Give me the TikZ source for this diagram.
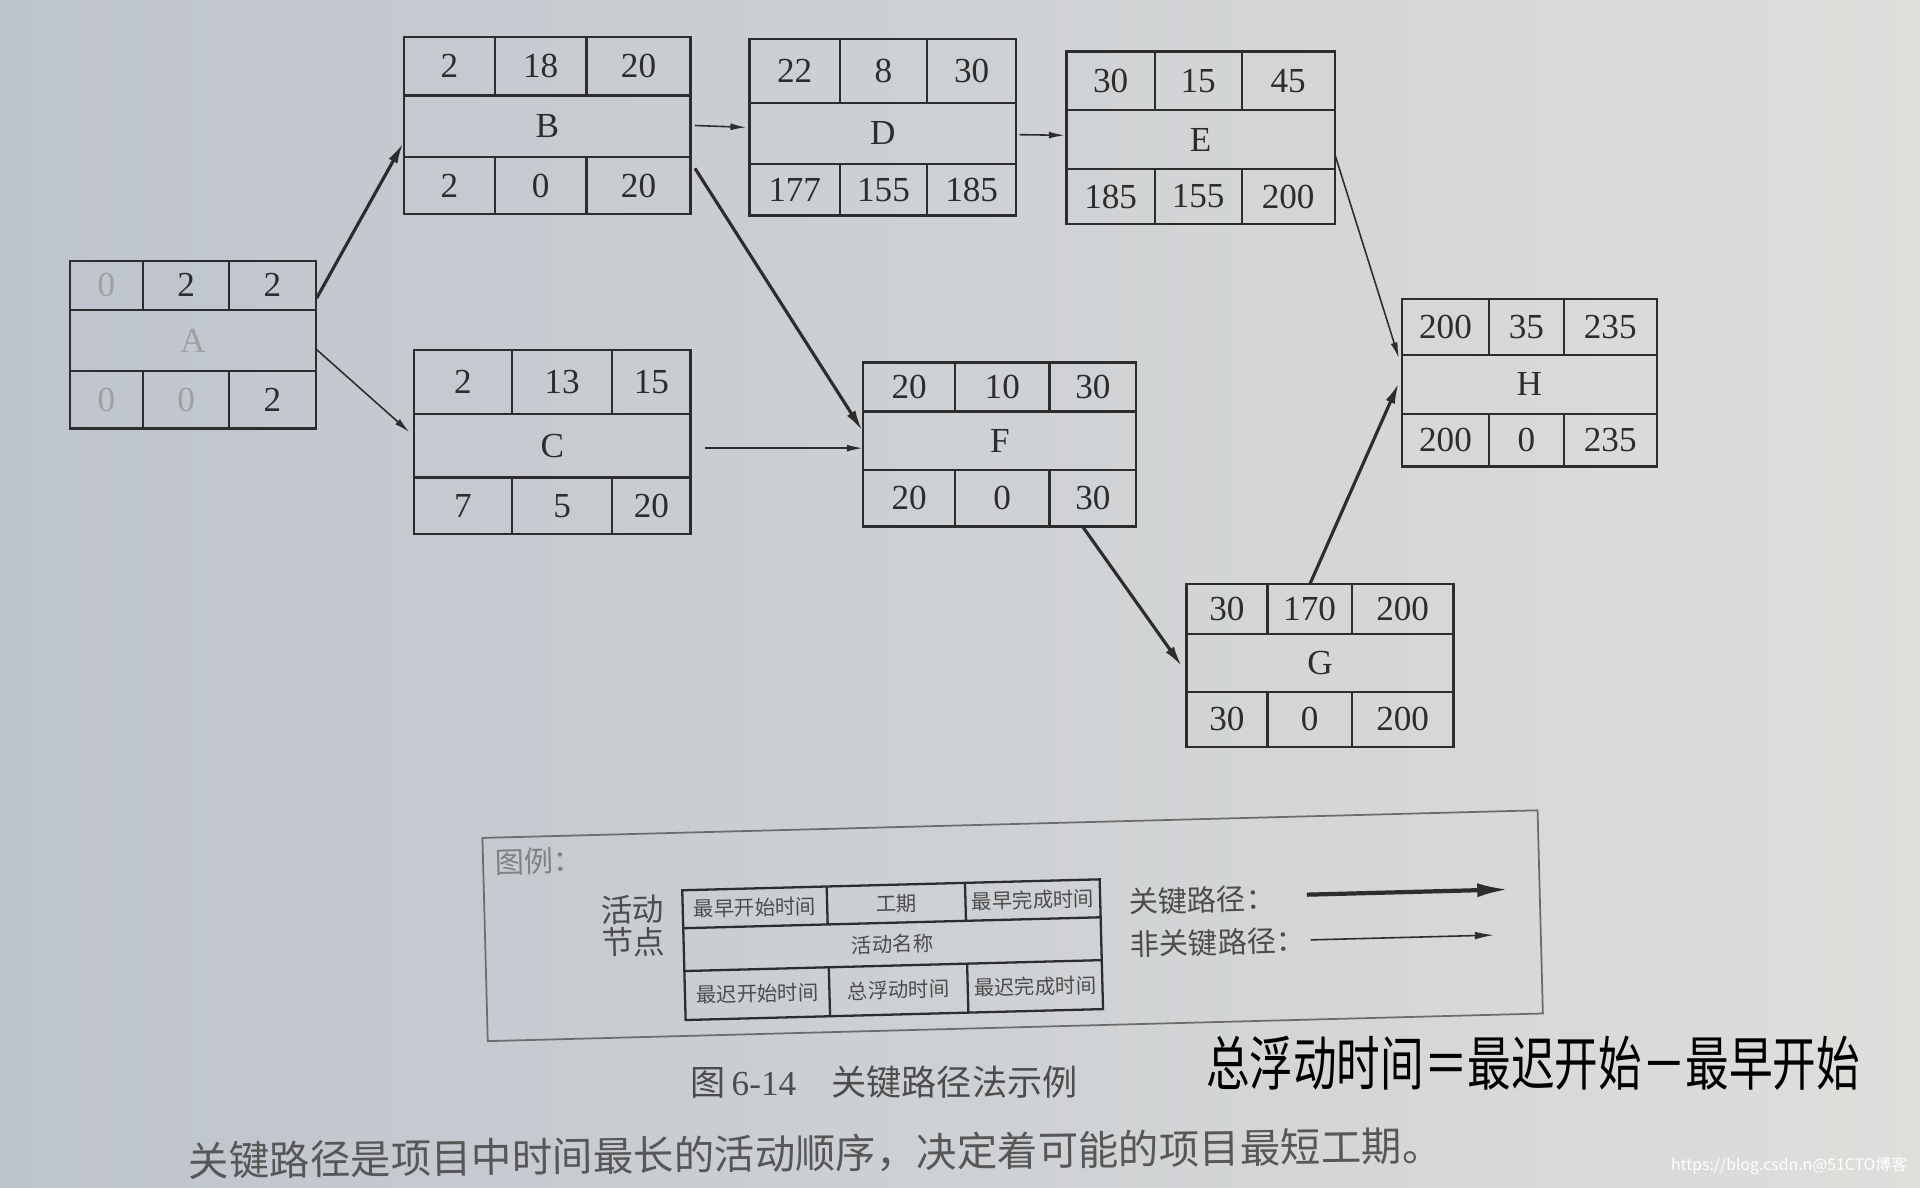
\documentclass[tikz,border=0pt]{standalone}
\usepackage{fontspec}
\setmainfont{Liberation Serif}
\newfontfamily\cjk{Noto Sans CJK SC}
\usetikzlibrary{fit,calc,arrows.meta}
\definecolor{ink}{RGB}{45,45,45}
\definecolor{pagel}{RGB}{190,196,205}
\definecolor{pager}{RGB}{222,222,219}
\newcommand{\faded}[1]{\textcolor{ink!45}{#1}}
\newcommand{\actbox}[9]{%
	\foreach \xa/\ya/\xb/\yb/\ra/\rb/\ca/\cb in {#2}{%
		\draw[boxline] (\xa,\ya) rectangle (\xb,\yb) (\xa,\ra)--(\xb,\ra) (\xa,\rb)--(\xb,\rb) (\ca,\ya)--(\ca,\ra) (\cb,\ya)--(\cb,\ra) (\ca,\rb)--(\ca,\yb) (\cb,\rb)--(\cb,\yb);
		\node[inner sep=0pt,fit={(\xa,\ya) (\xb,\yb)}] (#1) {};
		\node[cell] (#1-es) at ({(\xa+\ca)/2},{(\ya+\ra)/2}) {#3};
		\node[cell] (#1-du) at ({(\ca+\cb)/2},{(\ya+\ra)/2}) {#4};
		\node[cell] (#1-ef) at ({(\cb+\xb)/2},{(\ya+\ra)/2}) {#5};
		\node[cell] (#1-name) at ({(\xa+\xb)/2},{(\ra+\rb)/2}) {#6};
		\node[cell] (#1-ls) at ({(\xa+\ca)/2},{(\rb+\yb)/2}) {#7};
		\node[cell] (#1-tf) at ({(\ca+\cb)/2},{(\rb+\yb)/2}) {#8};
		\node[cell] (#1-lf) at ({(\cb+\xb)/2},{(\rb+\yb)/2}) {#9};
	}%
}
\begin{document}
\begin{tikzpicture}[x=0.012245cm,y=-0.012245cm,
	boxline/.style={draw=ink,line width=0.65pt},
	cell/.style={inner sep=0pt,text=ink,font=\fontsize{10}{12}\selectfont},
	crit/.style={draw=ink,line width=0.9pt,-{Latex[length=6pt,width=2.8pt]}},
	noncrit/.style={draw=ink,line width=0.45pt,-{Latex[length=4.5pt,width=2pt]}},
	legcell/.style={inner sep=0pt,text=ink!85,rotate=1.5,font=\cjk\fontsize{5.8}{6}\selectfont},
	legtext/.style={inner sep=0pt,text=ink!85,rotate=1.5,font=\cjk\fontsize{8.3}{9}\selectfont}]
	\shade[left color=pagel,right color=pager] (0,0) rectangle (1568,970);
	\useasboundingbox (0,0) rectangle (1568,970);
	\actbox{A}{57/213/258/350/253/303/117/187}{\faded{0}}{2}{2}{\faded{A}}{\faded{0}}{\faded{0}}{2}
	\actbox{B}{330/30/564/175/78/128/404/479}{2}{18}{20}{B}{2}{0}{20}
	\actbox{C}{338/286/564/436/338/390/418/500}{2}{13}{15}{C}{7}{5}{20}
	\actbox{D}{612/32/830/176/84/134/686/757}{22}{8}{30}{D}{177}{155}{185}
	\actbox{E}{871/42/1090/183/90/138/943/1014}{30}{15}{45}{E}{185}{155}{200}
	\actbox{F}{705/296/928/430/336/384/780/857}{20}{10}{30}{F}{20}{0}{30}
	\actbox{G}{969/477/1187/610/518/565/1035/1104}{30}{170}{200}{G}{30}{0}{200}
	\actbox{H}{1145/244/1353/381/290/338/1216/1277}{200}{35}{235}{H}{200}{0}{235}
	\draw[crit] ($(A.east)+(0,-38)$) -- ($(B.west)+(0,14)$);
	\draw[noncrit] ($(A.east)+(0,4)$) -- ($(C.west)+(-3,-8)$);
	\draw[noncrit] ($(B.east)+(3,0)$) -- ($(D.west)+(-2,0)$);
	\draw[crit] ($(B.east)+(3,35)$) -- ($(F.west)+(0,-11)$);
	\draw[noncrit] ($(C.east)+(11,5)$) -- ($(F.west)+(0,3)$);
	\draw[noncrit] ($(D.east)+(2,6)$) -- ($(E.west)+(-1,-2)$);
	\draw[noncrit] ($(E.east)+(0,15)$) -- ($(H.west)+(-2,-20)$);
	\draw[crit] ($(F.south)+(68,0)$) -- ($(G.west)+(-3,1)$);
	\draw[crit] ($(G.north)+(-8,0)$) -- ($(H.west)+(-2,0)$);
	\begin{scope}[rotate around={1.5:(827,756)},cell/.style={legcell}]
		\draw[ink!70,line width=0.5pt] (396,673) rectangle (1258,839);
		\node[legtext,anchor=west,text=ink!60] (legtitle) at (405,693) {图例：};
		\node[legtext,align=center,font=\cjk\fontsize{9}{9.2}\selectfont] (legnode) at (517,748) {活动\\节点};
		\actbox{key}{558/720/899/826/751/786/676/789}{最早开始时间}{工期}{最早完成时间}{活动名称}{最迟开始时间}{总浮动时间}{最迟完成时间}
		\node[legtext,anchor=west] (legcrit) at (922,739) {关键路径：};
		\node[legtext,anchor=west] (legnon) at (922,774) {非关键路径：};
		\coordinate (critA) at (1068,737);
		\coordinate (critB) at (1233,737);
		\coordinate (nonA) at (1070,774);
		\coordinate (nonB) at (1220,774);
		\draw[crit,line width=1.2pt,-{Latex[length=9pt,width=4pt]}] (critA) -- (critB);
		\draw[noncrit,-{Latex[length=5.5pt,width=2.2pt]}] (nonA) -- (nonB);
	\end{scope}
	\node[inner sep=0pt,text=ink!85,font=\fontsize{10}{12}\selectfont] (caption) at (722,884) {{\cjk 图}\,6-14\quad{\cjk 关键路径法示例}};
	\node[inner sep=0pt,text=black,font=\cjk\fontsize{12.4}{14}\selectfont] (note) at (1252,868) {\scalebox{1}[1.35]{总浮动时间＝最迟开始－最早开始}};
	\node[inner sep=0pt,text=ink!80,rotate=0.7,font=\cjk\fontsize{11.5}{13}\selectfont] (bodytext) at (666,942) {关键路径是项目中时间最长的活动顺序，决定着可能的项目最短工期。};
	\node[inner sep=0pt,anchor=east,text=white,font=\cjk\fontsize{4.5}{5}\selectfont] (mark) at (1558,952) {https://blog.csdn.n@51CTO博客};
\end{tikzpicture}
\end{document}
